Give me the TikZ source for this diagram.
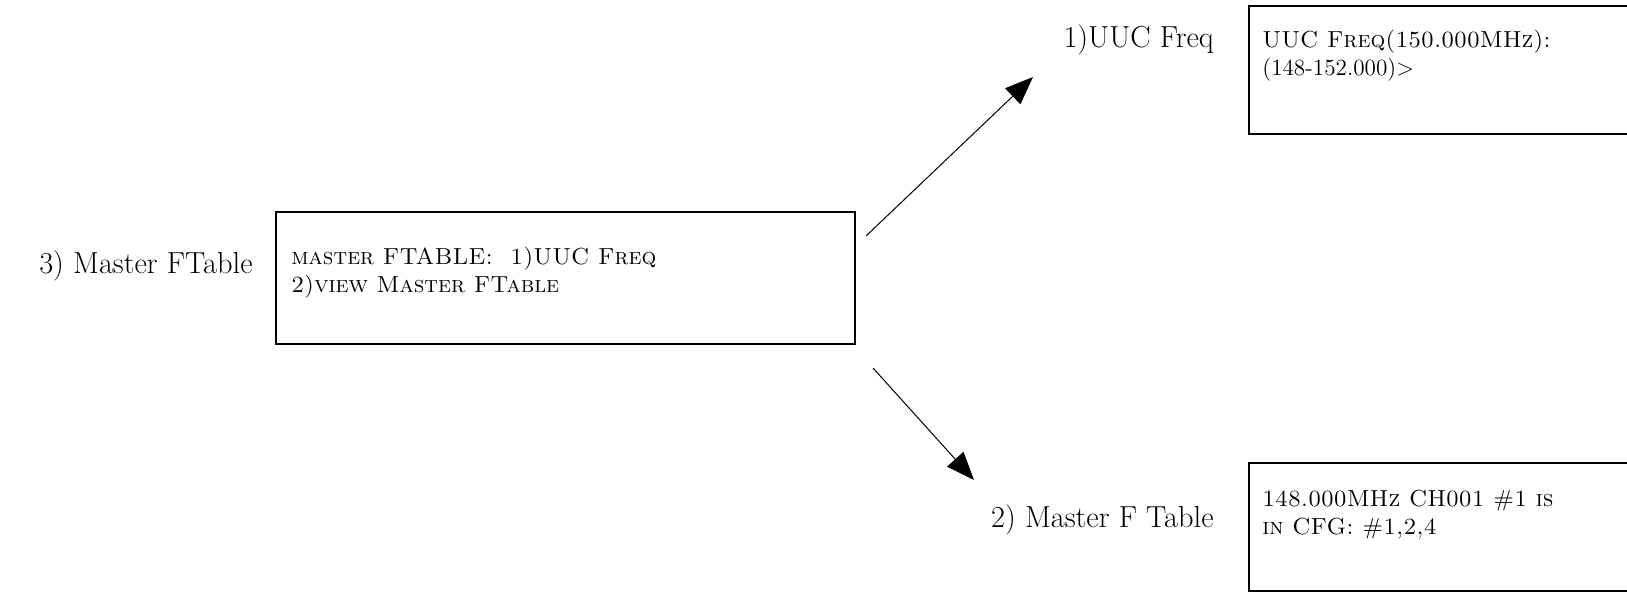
\documentclass[tikz,border=0pt]{standalone}
\usepackage{tikz}
\usetikzlibrary{arrows.meta}

\tikzset{
  screen/.style={line width=1.2pt},
  lbl/.style={anchor=east, inner sep=0pt, font=\fontsize{15.2}{18}\selectfont},
  scrtext/.style={anchor=north west, align=left, inner sep=0pt, font=\fontsize{11.6}{14}\selectfont},
  goto/.style={line width=0.5pt, -{Triangle[length=14pt,width=11pt]}}
}

\begin{document}
\begin{tikzpicture}[x=0.5pt,y=-0.5pt]
  \useasboundingbox (0,0) rectangle (1627,592);

  \draw[screen] (276,212) rectangle (855,344); % Master FTable screen
  \draw[screen] (1700,6) -- (1249,6) -- (1249,134) -- (1700,134); % UUC Freq screen
  \draw[screen] (1700,463) -- (1249,463) -- (1249,591) -- (1700,591); % Master F Table screen

  \node[lbl] (mainlbl) at (253,266) {3) Master FTable}; % Label for main screen
  \node[lbl] (uuclbl) at (1214,40) {1)UUC Freq}; % Label for UUC Freq
  \node[lbl] (tablelbl) at (1214,520) {2) Master F Table}; % Label for F Table

  \node[scrtext] (maintxt) at (291,247) {\textsc{master FTABLE:\ \ 1)UUC Freq}\\\textsc{2)view Master FTable}};
  \node[scrtext] (uuctxt) at (1262,30) {\textsc{UUC Freq(150.000MHz):}\\(148-152.000)>};
  \node[scrtext] (tabletxt) at (1262,490) {\textsc{148.000MHz CH001 \#1 is}\\\textsc{in CFG: \#1,2,4}};

  \coordinate (upfrom) at (866,236);
  \coordinate (upto) at (1033,77);
  \coordinate (downfrom) at (873,368);
  \coordinate (downto) at (974,480);

  \draw[goto] (upfrom) -- (upto); % to UUC Freq
  \draw[goto] (downfrom) -- (downto); % to Master F Table
\end{tikzpicture}
\end{document}
